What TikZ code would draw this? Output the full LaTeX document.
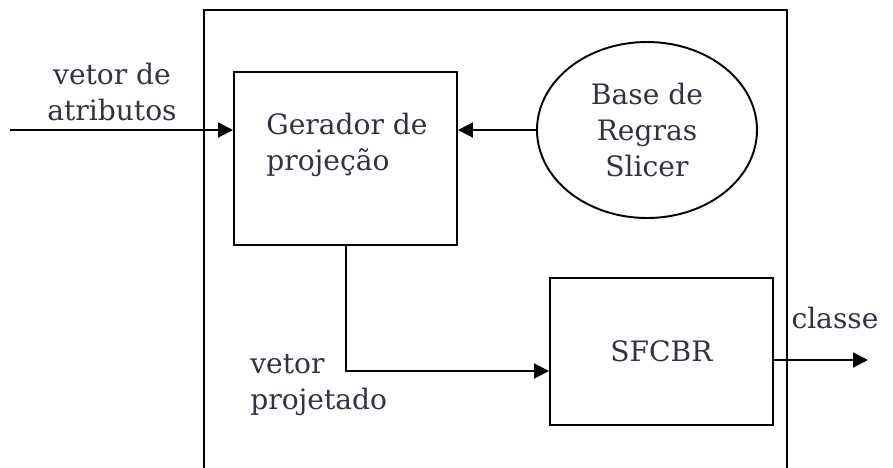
\documentclass[tikz,border=0pt]{standalone}
\usepackage{fontspec}
\setmainfont{DejaVu Serif}
\usetikzlibrary{arrows.meta,shapes.geometric}
\definecolor{texto}{HTML}{2E3440}
\begin{document}
\begin{tikzpicture}[
  font=\fontsize{16}{20.5}\selectfont, text=texto,
  caixa/.style={rectangle, draw=black, line width=1.1pt, align=left},
  elipse/.style={ellipse, draw=black, line width=1.1pt, align=center},
  rotulo/.style={align=left, inner sep=0pt},
  seta/.style={-{Triangle[length=8.5pt,width=8.5pt]}, line width=1.1pt}
]
\useasboundingbox (0,0) rectangle (17.86,-9.34);

% --- Bloco externo ---
\draw[line width=1.1pt] (4.08,-9.8) -- (4.08,-0.2) -- (15.74,-0.2) -- (15.74,-9.8);

% --- Blocos internos ---
\node[caixa, minimum width=4.46cm, minimum height=3.46cm] (gerador) at (6.91,-3.17) {};
\node[rotulo, anchor=west] (txtger) at (5.32,-2.9) {Gerador de\\projeção};
\node[elipse, minimum width=4.4cm, minimum height=3.52cm] (base) at (12.94,-2.6)
      {Base de\\Regras\\Slicer};
\node[caixa, minimum width=4.46cm, minimum height=2.94cm] (sfcbr) at (13.23,-7.03) {SFCBR};

% --- Entradas e saidas ---
\coordinate (ent) at (0.2,-2.6);
\coordinate (sai) at (17.36,-7.2);
\coordinate (dobra) at (6.92,-7.42);
\node[rotulo, align=center] (atrib) at (2.24,-1.84) {vetor de\\atributos};
\node[rotulo] (classe) at (16.7,-6.36) {classe};
\node[rotulo, anchor=west] (proj) at (5.0,-7.7) {vetor\\projetado};

% --- Relacoes ---
\draw[seta] (ent) -- (ent -| gerador.west);
\draw[seta] (base.west) -- (base.west -| gerador.east);
\draw[seta] (gerador.south -| dobra) -- (dobra) -- (dobra -| sfcbr.west);
\draw[seta] (sai -| sfcbr.east) -- (sai);

\end{tikzpicture}
\end{document}
